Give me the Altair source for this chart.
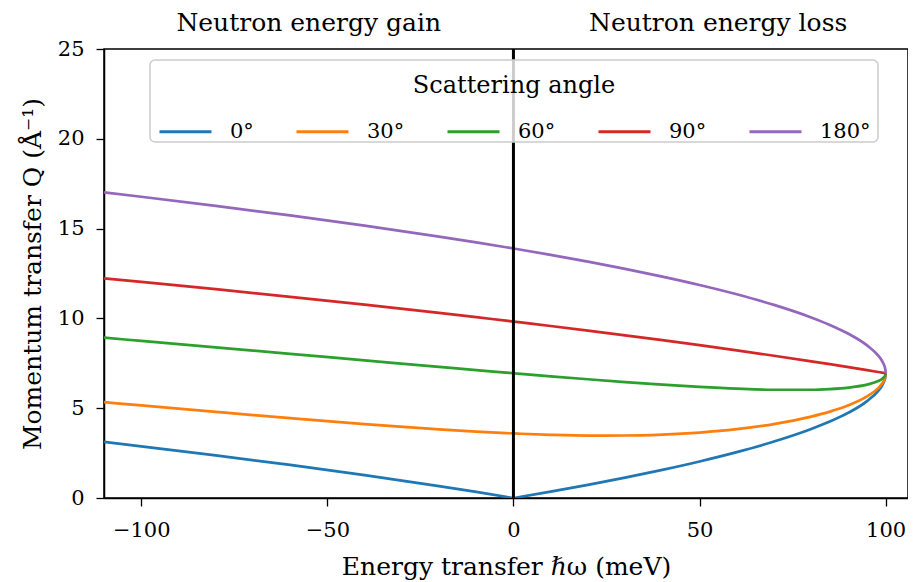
import altair as alt
import pandas as pd

# Energy transfer (meV)
omega = [-110, -100, -80, -60, -40, -20, -10, -2, 0, 2, 10, 20, 30, 40, 50, 60,
         70, 80, 85, 90, 95, 98, 99, 99.5, 99.9, 100]

# Momentum transfer Q (1/Angstrom) for each scattering angle
q_0 = [3.120, 2.878, 2.373, 1.840, 1.273, 0.663, 0.339, 0.069, 0.0, 0.070, 0.357, 0.733,
       1.135, 1.566, 2.035, 2.553, 3.142, 3.840, 4.256, 4.750, 5.394, 5.965, 6.252, 6.456,
       6.727, 6.947]
q_30 = [5.336, 5.153, 4.794, 4.444, 4.112, 3.821, 3.698, 3.614, 3.596, 3.578, 3.520, 3.478,
        3.479, 3.531, 3.644, 3.833, 4.117, 4.530, 4.808, 5.162, 5.655, 6.116, 6.355, 6.526,
        6.758, 6.947]
q_60 = [8.926, 8.748, 8.389, 8.027, 7.663, 7.301, 7.122, 6.982, 6.947, 6.912, 6.776, 6.611,
        6.455, 6.312, 6.186, 6.086, 6.026, 6.027, 6.067, 6.150, 6.315, 6.512, 6.627, 6.715,
        6.840, 6.947]
q_90 = [12.232, 12.033, 11.625, 11.202, 10.762, 10.304, 10.067, 9.873, 9.825, 9.775, 9.576,
        9.320, 9.058, 8.787, 8.508, 8.220, 7.921, 7.610, 7.450, 7.286, 7.118, 7.016, 6.982,
        6.964, 6.950, 6.947]
q_180 = [17.014, 16.772, 16.267, 15.734, 15.167, 14.557, 14.233, 13.963, 13.894, 13.824,
         13.537, 13.161, 12.759, 12.328, 11.859, 11.341, 10.752, 10.054, 9.638, 9.144,
         8.500, 7.930, 7.642, 7.439, 7.167, 6.947]

angles = ["0°", "30°", "60°", "90°", "180°"]
colors = ["#1f77b4", "#ff7f0e", "#2ca02c", "#d62728", "#9467bd"]
series = [q_0, q_30, q_60, q_90, q_180]

region_labels = ["Neutron energy gain", "Neutron energy loss"]
region_x = [-55, 55]

x_ticks = [-100, -50, 0, 50, 100]
y_ticks = [0, 5, 10, 15, 20, 25]

rows = []
for i, (a, qs) in enumerate(zip(angles, series)):
    for w, q in zip(omega, qs):
        rows.append({"angle": a, "order": i, "omega": w, "Q": q})
df = pd.DataFrame(rows)

FONT = "DejaVu Serif"

xscale = alt.Scale(domain=[-110, 106], nice=False, zero=False)
yscale = alt.Scale(domain=[0, 25], nice=False, zero=False)

lines = alt.Chart(df).mark_line(strokeWidth=2.7, interpolate="monotone", clip=True).encode(
    x=alt.X("omega:Q", scale=xscale,
            axis=alt.Axis(values=x_ticks, title="Energy transfer ℏω (meV)",
                          titlePadding=14, labelPadding=13, tickSize=8)),
    y=alt.Y("Q:Q", scale=yscale,
            axis=alt.Axis(values=y_ticks, title="Momentum transfer Q (Å⁻¹)",
                          titlePadding=12, labelPadding=12, tickSize=8)),
    color=alt.Color("angle:N", sort=angles,
                    scale=alt.Scale(domain=angles, range=colors),
                    legend=alt.Legend(
                        title="Scattering angle", orient="none", legendX=54, legendY=25,
                        direction="horizontal", columns=5, gridAlign="each",
                        symbolType="stroke", symbolSize=2704, symbolStrokeWidth=3,
                        labelFont=FONT, labelFontSize=21, labelColor="black",
                        labelOffset=17, titleFont=FONT, titleFontSize=24,
                        titleFontWeight="normal", titleColor="black", titleLimit=500,
                        titleAnchor="middle", titlePadding=6, columnPadding=36,
                        padding=0)),
    order=alt.Order("order:Q"),
    detail="angle:N",
)

vline = alt.Chart(pd.DataFrame({"x": [0]})).mark_rule(color="black", strokeWidth=3).encode(
    x=alt.X("x:Q", scale=xscale)
)

legend_box = alt.Chart(pd.DataFrame({"k": [0]})).mark_rect(
    fill="white", fillOpacity=0.8, stroke="#cccccc", strokeWidth=1.5, cornerRadius=5
).encode(
    x=alt.value(46), x2=alt.value(774), y=alt.value(11), y2=alt.value(93)
)

labels = alt.Chart(pd.DataFrame({"x": region_x, "t": region_labels})).mark_text(
    font=FONT, fontSize=25, color="black", baseline="bottom", align="center"
).encode(
    x=alt.X("x:Q", scale=xscale),
    y=alt.value(-13),
    text="t:N",
)

chart = alt.layer(lines, vline, legend_box, labels).properties(
    width=804, height=449,
    autosize=alt.AutoSizeParams(type="none"),
    padding={"left": 96, "top": 41, "right": 0, "bottom": 82},
).configure_view(
    stroke="black", strokeWidth=1.5
).configure_axis(
    labelFont=FONT, labelFontSize=21, labelColor="black",
    titleFont=FONT, titleFontSize=25, titleFontWeight="normal", titleColor="black",
    domainColor="black", domainWidth=1.5, tickColor="black", tickWidth=1.3, grid=False,
)

chart.save("out.html", embed_options={"renderer": "svg", "actions": False})
